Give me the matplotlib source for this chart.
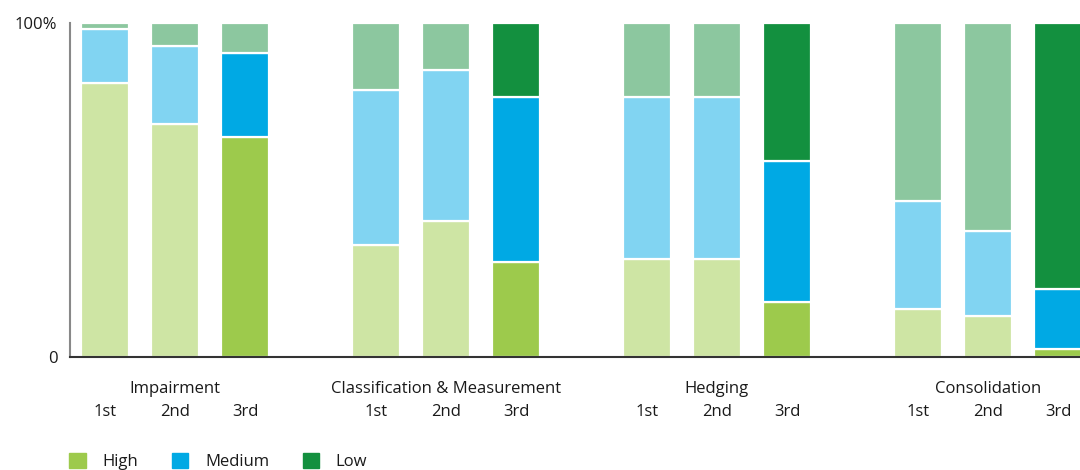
import matplotlib.pyplot as plt
from matplotlib.patches import Patch

# data (percent of answers per round)
groups = ["Impairment", "Classification & Measurement", "Hedging", "Consolidation"]
rounds = ["1st", "2nd", "3rd"]
high = [[82.0, 69.8, 65.8], [33.5, 40.7, 28.4], [29.4, 29.4, 16.4], [14.3, 12.4, 2.3]]
medium = [[16.1, 23.2, 25.3], [46.4, 45.2, 49.5], [48.3, 48.3, 42.2], [32.4, 25.3, 18.1]]
low = [[1.9, 7.0, 8.9], [20.1, 14.1, 22.1], [22.3, 22.3, 41.4], [53.3, 62.3, 79.6]]

# colours: light for rounds 1-2, strong for round 3
light = {"high": "#cee5a4", "med": "#81d4f2", "low": "#8cc79f"}
strong = {"high": "#9dca4c", "med": "#00a9e4", "low": "#13903f"}
# in the original, Impairment 3rd keeps the light colour for "Low"
low_strong = [False, True, True, True]

plt.rcParams["font.family"] = ["Open Sans", "DejaVu Sans"]
txt = "#1a1a1a"
fs = 12

fig = plt.figure(figsize=(10.8, 4.7), dpi=100)
ax = fig.add_axes([70 / 1080, 1 - 357 / 470, 1010 / 1080, 334 / 470])

stride = 271 / 70
width = 0.686
xpos = []
xlab = []
for g in range(len(groups)):
    for i in range(3):
        x = g * stride + i
        h = high[g][i]
        m = medium[g][i]
        l = low[g][i]
        third = i == 2
        ch = strong["high"] if third else light["high"]
        cm = strong["med"] if third else light["med"]
        cl = strong["low"] if (third and low_strong[g]) else light["low"]
        ax.bar(x, h, width, color=ch, edgecolor="white", linewidth=1.6)
        ax.bar(x, m, width, bottom=h, color=cm, edgecolor="white", linewidth=1.6)
        ax.bar(x, l, width, bottom=h + m, color=cl, edgecolor="white", linewidth=1.6)
        xpos.append(x)
        xlab.append(rounds[i])
    ax.annotate(groups[g], xy=(g * stride + 1, 0), xycoords=("data", "axes fraction"),
                xytext=(0, -17), textcoords="offset points", ha="center", va="top",
                fontsize=fs, color=txt)

ax.set_xlim(-0.5, 1010 / 70 - 0.5)
ax.set_ylim(0, 100)
ax.set_xticks(xpos)
ax.set_xticklabels(xlab, fontsize=fs, color=txt)
ax.set_yticks([0, 100])
ax.set_yticklabels(["0", "100%"], fontsize=fs, color=txt)
ax.tick_params(axis="x", length=0, pad=34)
ax.tick_params(axis="y", length=0, pad=9)
ax.spines["top"].set_visible(False)
ax.spines["right"].set_visible(False)
ax.spines["left"].set_color("#888888")
ax.spines["left"].set_linewidth(1.5)
ax.spines["bottom"].set_color("#333333")
ax.spines["bottom"].set_linewidth(1.5)
ax.set_zorder(2)

handles = [Patch(color=strong["high"]), Patch(color=strong["med"]), Patch(color=strong["low"])]
fig.legend(handles, ["High", "Medium", "Low"], loc="upper left", bbox_to_anchor=(0.058, 0.05),
           ncol=3, frameon=False, fontsize=fs, handlelength=1.0, handleheight=1.0,
           handletextpad=1.0, columnspacing=2.0, borderaxespad=0, labelcolor=txt)

fig.savefig("out.png", dpi=100)
